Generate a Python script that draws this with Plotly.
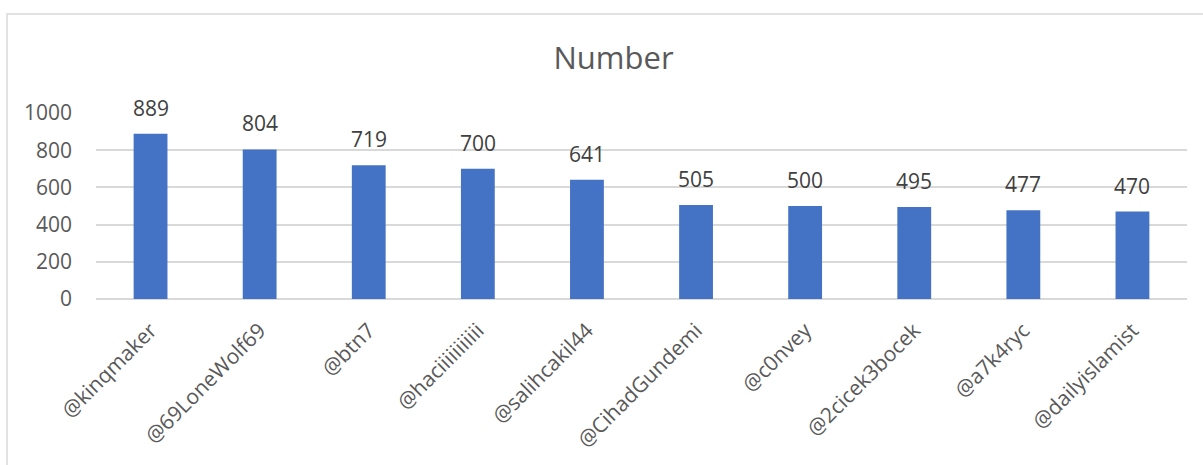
import plotly.graph_objects as go

categories = ["@kinqmaker", "@69LoneWolf69", "@btn7", "@haciiiiiiiiiii", "@salihcakil44",
              "@CihadGundemi", "@c0nvey", "@2cicek3bocek", "@a7k4ryc", "@dailyislamist"]
values = [889, 804, 719, 700, 641, 505, 500, 495, 477, 470]
y_ticks = [0, 200, 400, 600, 800, 1000]

W, H = 1203, 465
L, R, T, B = 96, 16, 113, 166

fig = go.Figure(go.Bar(
    x=categories, y=values,
    marker=dict(color="#4472C4", line=dict(width=0)),
    cliponaxis=False,
))

for c, v in zip(categories, values):
    fig.add_annotation(x=c, y=v, xref="x", yref="y", text=str(v), showarrow=False,
                       xanchor="center", yanchor="bottom", yshift=10,
                       font=dict(size=21, color="#404040", family="Open Sans"))

fig.update_layout(
    width=W, height=H,
    margin=dict(l=L, r=R, t=T, b=B, autoexpand=False),
    paper_bgcolor="white", plot_bgcolor="white",
    bargap=0.69,
    showlegend=False,
    font=dict(family="Open Sans", color="#595959"),
    title=dict(text="Number", x=0.51, xanchor="center", y=1 - 58 / H, yanchor="middle",
               font=dict(size=31, color="#595959", family="Open Sans")),
    xaxis=dict(tickangle=-45, tickfont=dict(size=21, color="#595959"), automargin=False,
               showgrid=False, showline=False, ticks="", ticklabelstandoff=14),
    yaxis=dict(range=[0, 1000], tickvals=y_ticks, tickfont=dict(size=21, color="#595959"),
               automargin=False,
               showgrid=True, gridcolor="#D9D9D9", gridwidth=1.5, zeroline=True,
               zerolinecolor="#D9D9D9", zerolinewidth=1.5, showline=False, ticks="",
               ticklabelstandoff=23),
    shapes=[dict(type="rect", xref="paper", yref="paper",
                 x0=-(L - 7) / (W - L - R), x1=1 + (R + 5) / (W - L - R),
                 y0=-(B + 5) / (H - T - B), y1=1 + (T - 14) / (H - T - B),
                 line=dict(color="#D9D9D9", width=1.5), fillcolor="rgba(0,0,0,0)", layer="below")],
)

fig.write_html("out.html", config={"displayModeBar": False},
               post_script="document.body.style.margin='0';")
